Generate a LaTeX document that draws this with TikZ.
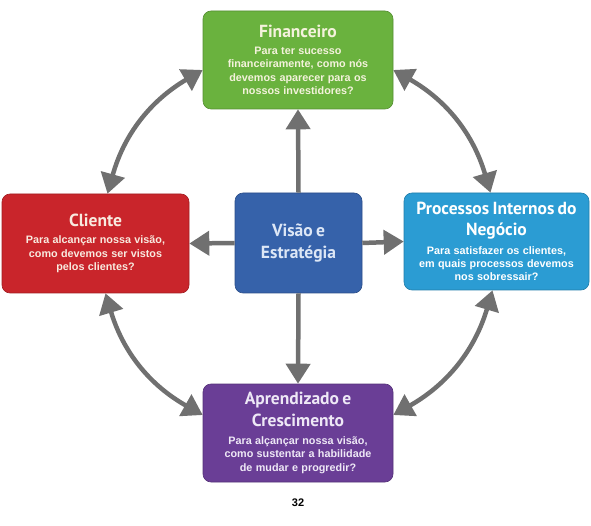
\documentclass[tikz,border=0pt]{standalone}
\usepackage{fontspec}
\setmainfont{Liberation Sans}
\newfontfamily\ptsans{PT Sans}
\usetikzlibrary{arrows.meta}
\definecolor{cgreen}{HTML}{6AB23E}
\definecolor{cred}{HTML}{C9252B}
\definecolor{ccyan}{HTML}{2B9CD3}
\definecolor{cblue}{HTML}{3662AA}
\definecolor{cpurple}{HTML}{6A3E96}
\definecolor{carrow}{HTML}{707070}
\definecolor{tgreen}{HTML}{F4F2DC}
\definecolor{tred}{HTML}{F8EADF}
\definecolor{tpurple}{HTML}{EEE8F6}
\definecolor{tblue}{HTML}{DDE7F6}
\newcommand\ttlfont{\ptsans\bfseries\fontsize{17.5}{21.5}\selectfont}
\newcommand\bodyfont{\bfseries\fontsize{10.8}{13.3}\selectfont}
\tikzset{
  box/.style={rounded corners=8pt, draw=#1!80!black, line width=0.6pt, fill=#1,
    align=center, inner sep=0pt},
  conn/.style={draw=carrow, line width=4.5pt,
    arrows={-Triangle[length=20pt,width=24pt]}},
  dconn/.style={draw=carrow, line width=4.5pt,
    arrows={Triangle[length=20pt,width=24pt]-Triangle[length=20pt,width=24pt]}, bend left=22}
}
\begin{document}
\begin{tikzpicture}[x=1pt,y=-1pt]
\useasboundingbox (0,0) rectangle (591,526);
\node[box=cgreen, minimum width=190pt, minimum height=98pt, text width=186pt, text=tgreen] (fin) at (298,60)
  {{\ttlfont Financeiro\par}\vspace{3.5pt}{\bodyfont Para ter sucesso\\financeiramente, como nós\\devemos aparecer para os\\nossos investidores?\par}};
\node[box=cred, minimum width=187pt, minimum height=99pt, text width=183pt, text=tred] (cli) at (95.5,243.5)
  {{\ttlfont Cliente\par}\vspace{3.5pt}{\bodyfont Para alcançar nossa visão,\\como devemos ser vistos\\pelos clientes?\par}};
\node[box=ccyan, minimum width=185pt, minimum height=97pt, text width=183pt, text=white] (proc) at (496.5,241.5)
  {{\ttlfont Processos Internos do\\Negócio\par}\vspace{5pt}{\bodyfont Para satisfazer os clientes,\\em quais processos devemos\\nos sobressair?\par}};
\node[box=cpurple, minimum width=190pt, minimum height=98pt, text width=186pt, text=tpurple] (apr) at (298,433)
  {{\ttlfont Aprendizado e\\Crescimento\par}\vspace{5pt}{\bodyfont Para alçançar nossa visão,\\como sustentar a habilidade\\de mudar e progredir?\par}};
\node[box=cblue, minimum width=127pt, minimum height=100pt, text width=123pt, text=tblue] (vis) at (298.5,243)
  {{\ttlfont Visão e\\Estratégia\par}};
\node[font=\bfseries\fontsize{11}{13}\selectfont, text=black] (pg) at (298,503) {32};
% straight arrows
\draw[conn] (vis.north) -- (fin.south);
\draw[conn] (vis.south) -- (apr.north);
\draw[conn] (vis.west) -- (cli.east);
\draw[conn] (vis.east) -- (proc.west);
% curved arrows
\draw[dconn] ([xshift=12pt]cli.north) to ([yshift=-10pt]fin.west);
\draw[dconn] ([yshift=-10pt]fin.east) to ([xshift=-6pt]proc.north);
\draw[dconn] ([xshift=-4pt]proc.south) to ([yshift=18pt]apr.east);
\draw[dconn] ([yshift=18pt]apr.west) to ([xshift=10pt]cli.south);
\end{tikzpicture}
\end{document}
